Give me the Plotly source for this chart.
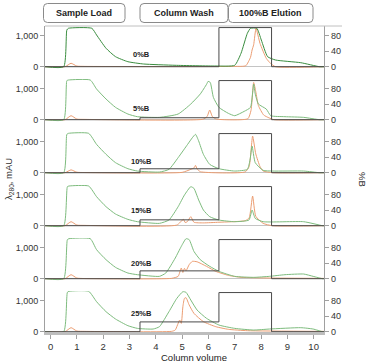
import plotly.graph_objects as go
from plotly.subplots import make_subplots

# ---------------- data ----------------
wash_pct = [0, 5, 10, 15, 20, 25]
wash_labels = ["0%B", "5%B", "10%B", "15%B", "20%B", "25%B"]
label_y = [374, 362, 351, 500, 500, 586]
phase_x = [-0.21, 3.4, 6.4, 8.4, 10.4]   # load / wash / elution / re-equil boundaries
phase_titles = ["Sample Load", "Column Wash", "100%B Elution"]

g1_x = [-0.21, 0.50, 0.62, 0.68, 1.57, 1.75, 2.11, 2.47, 2.94, 3.54, 4.73, 6.29, 7.00, 7.24, 7.48, 7.60, 7.84, 8.01, 8.25, 8.55, 9.51, 10.22, 10.40]
g1_y = [0, 0, 1173, 1227, 1227, 1013, 588, 320, 160, 86, 45, 22, 45, 428, 1067, 1227, 1227, 853, 320, 214, 128, 0, 0]
o1_x = [-0.21, 0.55, 0.78, 1.0, 1.3, 7.0, 7.42, 7.60, 7.66, 7.72, 7.81, 7.96, 8.20, 8.37, 8.55, 10.40]
o1_y = [0, 0, 109, 20, 10, 10, 30, 300, 533, 700, 1227, 747, 266, 100, 0, 0]

g2_x = [-0.21, 0.50, 0.62, 0.68, 1.51, 1.75, 2.11, 2.47, 2.94, 3.30, 4.14, 4.85, 5.33, 5.69, 5.93, 5.99, 6.07, 6.19, 6.40, 6.76, 7.00, 7.36, 7.60, 7.72, 7.78, 7.90, 8.20, 8.37, 8.91, 9.62, 10.22, 10.40]
g2_y = [0, 0, 1246, 1267, 1267, 980, 660, 394, 181, 96, 75, 181, 500, 820, 1130, 1225, 1190, 713, 394, 202, 128, 266, 394, 1140, 820, 500, 340, 128, 96, 75, 0, 0]
o2_x = [-0.21, 0.55, 0.78, 1.0, 1.3, 5.8, 5.95, 6.05, 6.15, 6.3, 7.5, 7.62, 7.72, 7.80, 7.90, 8.10, 8.30, 8.50, 10.40]
o2_y = [0, 0, 128, 20, 10, 15, 100, 309, 100, 20, 30, 300, 1190, 900, 450, 150, 60, 0, 0]

g3_x = [-0.21, 0.50, 0.62, 0.68, 1.45, 1.75, 2.11, 2.47, 2.94, 3.30, 4.14, 4.50, 4.85, 5.21, 5.39, 5.51, 5.63, 5.81, 6.05, 6.40, 7.00, 7.48, 7.58, 7.66, 7.78, 8.08, 8.44, 9.62, 10.22, 10.40]
g3_y = [0, 0, 1225, 1257, 1257, 905, 586, 320, 128, 53, 21, 106, 480, 905, 1118, 1225, 1012, 586, 266, 128, 53, 106, 400, 852, 320, 75, 53, 53, 0, 0]
o3_x = [-0.21, 0.55, 0.78, 1.0, 1.3, 5.0, 5.33, 5.45, 5.51, 5.57, 5.7, 7.4, 7.55, 7.68, 7.80, 7.96, 8.08, 8.45, 10.40]
o3_y = [0, 0, 90, 15, 5, 10, 106, 150, 234, 120, 30, 25, 200, 1170, 600, 200, 53, 0, 0]

g4_x = [-0.21, 0.50, 0.64, 0.70, 1.45, 1.75, 2.11, 2.47, 2.94, 3.30, 4.14, 4.50, 4.85, 5.09, 5.33, 5.45, 5.63, 5.81, 6.05, 6.40, 7.00, 7.54, 7.66, 7.78, 8.08, 9.62, 10.34, 10.40]
g4_y = [0, 0, 1246, 1267, 1267, 927, 607, 373, 202, 128, 75, 181, 607, 980, 1246, 1193, 820, 500, 288, 181, 128, 181, 500, 234, 128, 128, 0, 0]
o4_x = [-0.21, 0.55, 0.78, 1.0, 1.3, 4.8, 5.05, 5.12, 5.2, 5.33, 5.45, 5.8, 6.4, 7.4, 7.55, 7.68, 7.80, 8.08, 8.43, 10.40]
o4_y = [0, 0, 128, 20, 10, 20, 202, 100, 130, 288, 110, 90, 110, 160, 250, 948, 300, 75, 0, 0]

g5_x = [-0.21, 0.50, 0.64, 0.70, 1.51, 1.75, 2.11, 2.47, 2.94, 3.30, 4.14, 4.38, 4.74, 4.97, 5.15, 5.27, 5.45, 5.69, 6.05, 6.40, 7.00, 7.72, 8.32, 8.91, 9.62, 9.98, 10.34, 10.40]
g5_y = [0, 0, 1246, 1278, 1278, 927, 607, 362, 181, 128, 75, 181, 660, 1033, 1278, 1246, 873, 607, 394, 234, 75, 43, 75, 128, 149, 75, 0, 0]
o5_x = [-0.21, 0.55, 0.78, 1.0, 1.3, 4.6, 4.85, 4.97, 5.03, 5.09, 5.15, 5.27, 5.39, 5.57, 5.93, 6.28, 6.76, 7.24, 8.32, 10.40]
o5_y = [0, 0, 128, 20, 5, 10, 75, 340, 200, 330, 256, 450, 554, 540, 394, 234, 106, 43, 21, 10]

g6_x = [-0.21, 0.50, 0.64, 0.70, 1.45, 1.75, 2.11, 2.47, 2.94, 3.30, 3.90, 4.14, 4.50, 4.80, 5.03, 5.15, 5.33, 5.57, 5.93, 6.40, 7.00, 7.72, 8.32, 9.51, 9.98, 10.34, 10.40]
g6_y = [0, 0, 1257, 1290, 1290, 958, 639, 405, 192, 106, 85, 160, 639, 1065, 1278, 1257, 1012, 692, 426, 213, 106, 53, 85, 128, 85, 0, 0]
o6_x = [-0.21, 0.55, 0.78, 1.0, 1.3, 4.6, 4.74, 4.91, 4.97, 5.03, 5.09, 5.15, 5.27, 5.45, 5.81, 6.28, 6.76, 7.48, 10.40]
o6_y = [0, 0, 128, 20, 10, 10, 53, 373, 266, 800, 1065, 1086, 852, 586, 320, 160, 75, 32, 10]

green_x = [g1_x, g2_x, g3_x, g4_x, g5_x, g6_x]
green_y = [g1_y, g2_y, g3_y, g4_y, g5_y, g6_y]
orange_x = [o1_x, o2_x, o3_x, o4_x, o5_x, o6_x]
orange_y = [o1_y, o2_y, o3_y, o4_y, o5_y, o6_y]

# ---------------- figure ----------------
W, H = 370, 363
ML, MR, MT, MB = 45, 28, 26, 31
PW, PH = W - ML - MR, H - MT - MB

fig = make_subplots(rows=6, cols=1, shared_xaxes=True, vertical_spacing=0,
                    row_heights=[53, 53, 53, 53, 53, 41],
                    specs=[[{"secondary_y": True}] for _ in range(6)])

FONT = "Liberation Sans, Arial, sans-serif"
GREEN_DARK = "#3a8d3f"
GREEN = "#7dbb7d"
ORANGE = "#eb9d72"
STEP = "#4a4a4a"
AX = "#a0a0a0"

for i in range(6):
    r = i + 1
    fig.add_trace(go.Scatter(x=orange_x[i], y=orange_y[i], mode="lines",
                             line=dict(color=ORANGE, width=1, shape="spline", smoothing=0.5),
                             hoverinfo="skip", showlegend=False), row=r, col=1, secondary_y=False)
    fig.add_trace(go.Scatter(x=green_x[i], y=green_y[i], mode="lines",
                             line=dict(color=GREEN_DARK if i == 0 else GREEN, width=1,
                                       shape="spline", smoothing=0.5),
                             hoverinfo="skip", showlegend=False), row=r, col=1, secondary_y=False)
    fig.add_trace(go.Scatter(x=phase_x, y=[0, wash_pct[i], 100, 0, 0], mode="lines",
                             line=dict(color=STEP, width=1, shape="hv"),
                             hoverinfo="skip", showlegend=False), row=r, col=1, secondary_y=True)
    lo = -393 if i < 5 else -10
    fig.update_yaxes(row=r, col=1, secondary_y=False, range=[lo, 1300], automargin=False,
                     tickvals=[0, 1000], ticktext=["0", "1,000"],
                     ticks="outside", ticklen=4, tickcolor=AX, showline=True, linecolor=AX,
                     linewidth=1, showgrid=False, zeroline=True, zerolinecolor="#c4c4c4",
                     zerolinewidth=1, tickfont=dict(size=9, color="#333", family=FONT))
    fig.update_yaxes(row=r, col=1, secondary_y=True, range=[lo * 0.08, 104], automargin=False,
                     tickvals=[0, 40, 80], ticks="outside", ticklen=4, tickcolor=AX,
                     showline=True, linecolor=AX, linewidth=1, showgrid=False, zeroline=False,
                     tickfont=dict(size=9, color="#333", family=FONT))
    yref = "y" if i == 0 else "y%d" % (2 * i + 1)
    xref = "x" if i == 0 else "x%d" % (i + 1)
    fig.add_annotation(x=3.47, y=label_y[i], xref=xref, yref=yref, text="<b>%s</b>" % wash_labels[i],
                       showarrow=False, xanchor="center", yanchor="middle",
                       font=dict(size=7.5, color="#222", family=FONT))

for i in range(6):
    r = i + 1
    fig.update_xaxes(row=r, col=1, range=[-0.21, 10.40], showgrid=False, zeroline=False,
                     automargin=False,
                     showticklabels=(r == 6), ticks="outside" if r == 6 else "",
                     ticklen=4, tickcolor=AX, showline=(r == 6), linecolor="#bdbdbd", linewidth=2.5,
                     dtick=1, tick0=0, tickfont=dict(size=9.5, color="#333", family=FONT))

# frame top
fig.add_shape(type="line", xref="paper", yref="paper", x0=0, x1=1, y0=1, y1=1,
              line=dict(color="#c0c0c0", width=1))

def px2paper(px, py):
    return (px - ML) / PW, (H - MB - py) / PH

# x-axis title
tx, ty = px2paper((ML + W - MR) / 2, 357)
fig.add_annotation(x=0.5, y=ty, xref="paper", yref="paper", text="Column volume",
                   showarrow=False, xanchor="center", yanchor="middle",
                   font=dict(size=9.5, color="#222", family=FONT))

# phase boxes (pixel positions converted to paper coords)
boxes_px = [(43.5, 125), (140, 228), (228.5, 313)]
for (bx0, bx1), title in zip(boxes_px, phase_titles):
    x0, y1 = px2paper(bx0, 3.5)
    x1, y0 = px2paper(bx1, 22.5)
    rx, ry = 4 / PW, 4 / PH
    path = (f"M {x0+rx},{y0} L {x1-rx},{y0} Q {x1},{y0} {x1},{y0+ry} L {x1},{y1-ry} "
            f"Q {x1},{y1} {x1-rx},{y1} L {x0+rx},{y1} Q {x0},{y1} {x0},{y1-ry} "
            f"L {x0},{y0+ry} Q {x0},{y0} {x0+rx},{y0} Z")
    fig.add_shape(type="path", path=path, xref="paper", yref="paper",
                  line=dict(color="#8a8a8a", width=1), fillcolor="white")
    fig.add_annotation(x=(x0 + x1) / 2, y=(y0 + y1) / 2, xref="paper", yref="paper",
                       text="<b>%s</b>" % title, showarrow=False, xanchor="center", yanchor="middle",
                       font=dict(size=9, color="#222", family=FONT))

# axis titles
fig.add_annotation(x=(9 - ML) / PW, y=0.5, xref="paper", yref="paper",
                   text="λ<sub>280</sub>, mAU", textangle=-90, showarrow=False,
                   xanchor="center", yanchor="middle",
                   font=dict(size=9.5, color="#333", family=FONT))
fig.add_annotation(x=(363 - ML) / PW, y=0.5, xref="paper", yref="paper",
                   text="%B", textangle=90, showarrow=False,
                   xanchor="center", yanchor="middle",
                   font=dict(size=9.5, color="#333", family=FONT))

fig.update_layout(width=W, height=H, margin=dict(l=ML, r=MR, t=MT, b=MB, autoexpand=False),
                  plot_bgcolor="white", paper_bgcolor="white", showlegend=False)

fig.write_html("out.html", config={"displayModeBar": False, "staticPlot": True},
               post_script="document.body.style.margin='0';document.body.style.padding='0';")
